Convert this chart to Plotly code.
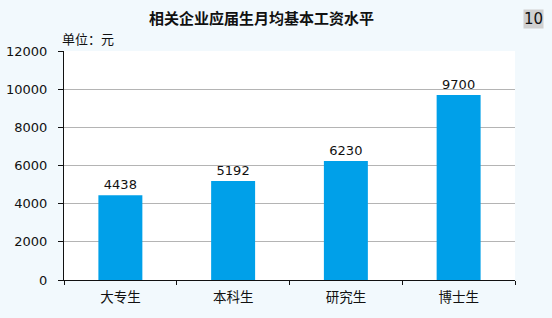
import plotly.graph_objects as go

categories = ["大专生", "本科生", "研究生", "博士生"]
salaries = [4438, 5192, 6230, 9700]
y_ticks = [0, 2000, 4000, 6000, 8000, 10000, 12000]

font_family = "Noto Sans CJK SC, DejaVu Sans, sans-serif"

fig = go.Figure(go.Bar(
    x=categories, y=salaries,
    marker=dict(color="#00A0E9", line=dict(width=0)),
    width=0.39,
    text=[str(v) for v in salaries],
    textposition="outside",
    textfont=dict(size=13, color="#111111", family="DejaVu Sans, sans-serif"),
    cliponaxis=False,
))

fig.update_layout(
    width=552, height=318,
    margin=dict(l=64, r=37, t=51, b=38),
    paper_bgcolor="#F2F9FD",
    plot_bgcolor="#FFFFFF",
    showlegend=False,
    font=dict(family=font_family, size=12, color="#111111"),
    annotations=[
        dict(text="<b>相关企业应届生月均基本工资水平</b>", xref="paper", yref="paper",
             x=(261 - 64) / 451, y=1, yanchor="middle", xanchor="center", yshift=34,
             showarrow=False, font=dict(size=15, color="#111111")),
        dict(text="单位：元", xref="paper", yref="paper", x=0, y=1,
             xanchor="left", yanchor="middle", xshift=-4, yshift=13,
             showarrow=False, font=dict(size=13, color="#111111")),
        dict(text="10", xref="paper", yref="paper", x=1, y=1,
             xanchor="center", yanchor="middle", xshift=18, yshift=32,
             showarrow=False, bgcolor="#D0D0D0", borderpad=0,
             font=dict(size=15, color="#111111", family="DejaVu Sans, sans-serif")),
    ],
)

fig.update_yaxes(
    range=[0, 12000], tickvals=y_ticks, ticktext=[str(v) for v in y_ticks],
    showgrid=True, gridcolor="#B4B4B4", gridwidth=1,
    showline=True, linecolor="#111111", linewidth=1,
    ticks="outside", ticklen=5, tickcolor="#111111",
    ticklabelstandoff=8, automargin=False,
    tickfont=dict(size=13, family="DejaVu Sans, sans-serif"),
    zeroline=False,
)
fig.update_xaxes(
    showline=True, linecolor="#111111", linewidth=1,
    ticks="outside", tickson="boundaries", ticklen=4, tickcolor="#111111",
    ticklabelstandoff=5, automargin=False,
    tickfont=dict(size=13.5),
)

fig.write_html("out.html")
